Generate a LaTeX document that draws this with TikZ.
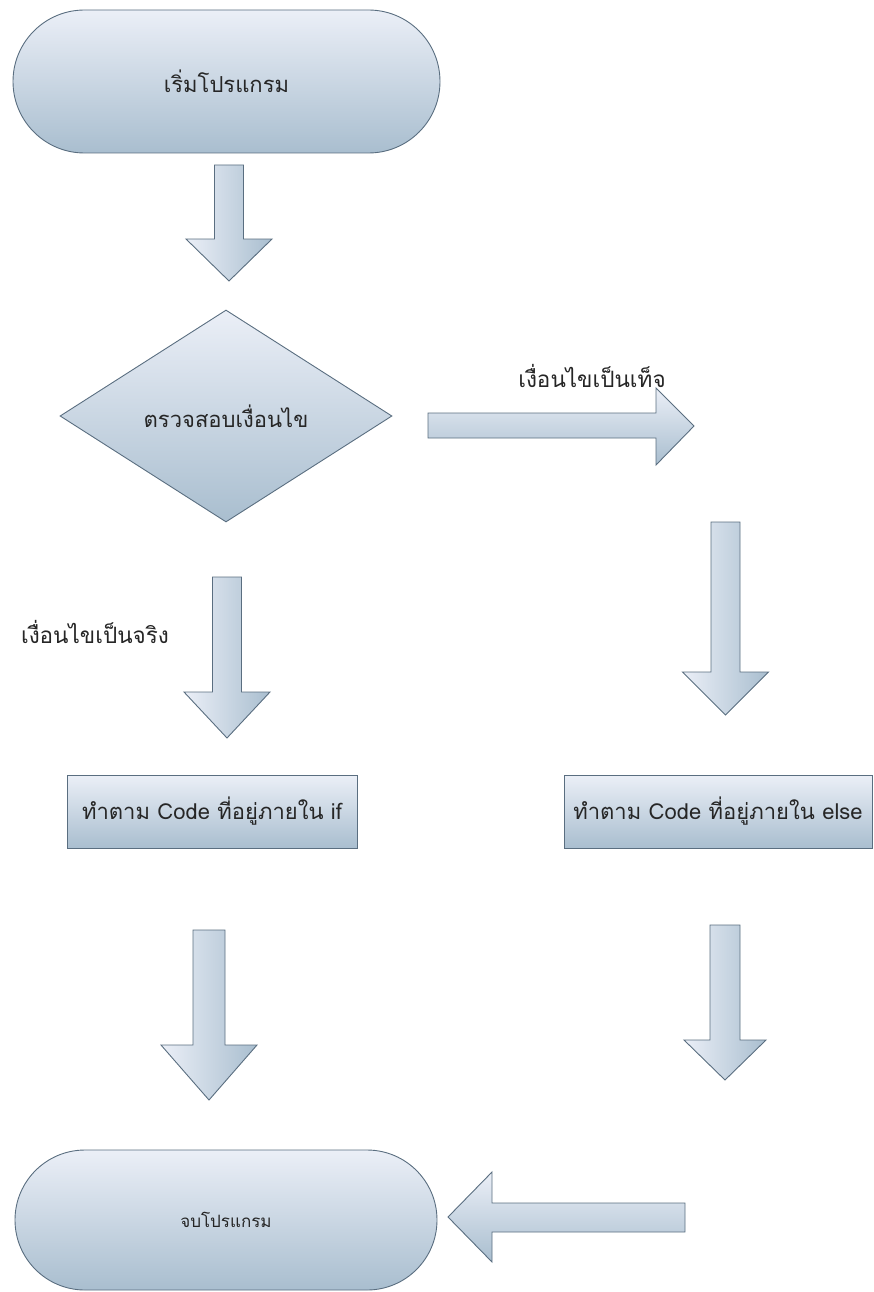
\documentclass[tikz,border=0pt]{standalone}
\usepackage{fontspec}
\newfontfamily\thaifont[Script=Thai]{Loma}
\usetikzlibrary{shapes.geometric,shapes.misc}
\definecolor{fillTop}{HTML}{EBEFF7}
\definecolor{fillBot}{HTML}{A9BECF}
\definecolor{edgeCol}{HTML}{5A6E80}
\tikzset{
  flowbox/.style={draw=edgeCol, line width=0.9pt, top color=fillTop, bottom color=fillBot, inner sep=0pt},
  terminal/.style={flowbox, rounded rectangle, minimum width=427pt, minimum height=143pt},
  decision/.style={flowbox, diamond, minimum width=332pt, minimum height=212pt},
  process/.style={flowbox, rectangle, minimum height=73pt},
  downarr/.style={draw=edgeCol, line width=0.9pt, left color=fillTop, right color=fillBot},
  sidearr/.style={draw=edgeCol, line width=0.9pt, top color=fillTop, bottom color=fillBot},
  label/.style={font=\thaifont\fontsize{22.5}{26}\selectfont, text=black!85}
}
\begin{document}
\begin{tikzpicture}[x=1pt, y=-1pt, every node/.append style={font=\thaifont\fontsize{22}{26}\selectfont, text=black!85}]
  \useasboundingbox (0,0) rectangle (873,1292);
  % inicio
  \node[terminal] (start) at (226.5,81.5) {เริ่มโปรแกรม};
  \draw[downarr] (214.5,165) -- (243.5,165) -- (243.5,239) -- (272,239) -- (229,281) -- (186,239) -- (214.5,239) -- cycle;
  % decision
  \node[decision] (check) at (226,416) {ตรวจสอบเงื่อนไข};
  \draw[sidearr] (428,413) -- (656,413) -- (656,388) -- (694,426) -- (656,465) -- (656,438) -- (428,438) -- cycle;
  \node[label] (falselbl) at (592,376) {เงื่อนไขเป็นเท็จ};
  % rama verdadera
  \node[label] (truelbl) at (95,632) {เงื่อนไขเป็นจริง};
  \draw[downarr] (212.5,577) -- (241.5,577) -- (241.5,692) -- (270,692) -- (227,738) -- (184,692) -- (212.5,692) -- cycle;
  \node[process, minimum width=290pt] (ifbox) at (212,811.5) {ทำตาม Code ที่อยู่ภายใน if};
  \draw[downarr] (193,930) -- (225,930) -- (225,1045) -- (257,1045) -- (209,1100) -- (161,1045) -- (193,1045) -- cycle;
  % rama falsa
  \draw[downarr] (711,522) -- (740,522) -- (740,672) -- (768.5,672) -- (725.5,715) -- (682.5,672) -- (711,672) -- cycle;
  \node[process, minimum width=308pt] (elsebox) at (718,811.5) {ทำตาม Code ที่อยู่ภายใน else};
  \draw[downarr] (710,925) -- (740,925) -- (740,1040) -- (766,1040) -- (725,1080) -- (684,1040) -- (710,1040) -- cycle;
  \draw[sidearr] (685,1203) -- (492,1203) -- (492,1172) -- (448,1217) -- (492,1262) -- (492,1232) -- (685,1232) -- cycle;
  % fin
  \node[terminal, minimum width=422pt, minimum height=140pt, font=\thaifont\fontsize{17}{20}\selectfont] (stop) at (226,1220) {จบโปรแกรม};
\end{tikzpicture}
\end{document}
